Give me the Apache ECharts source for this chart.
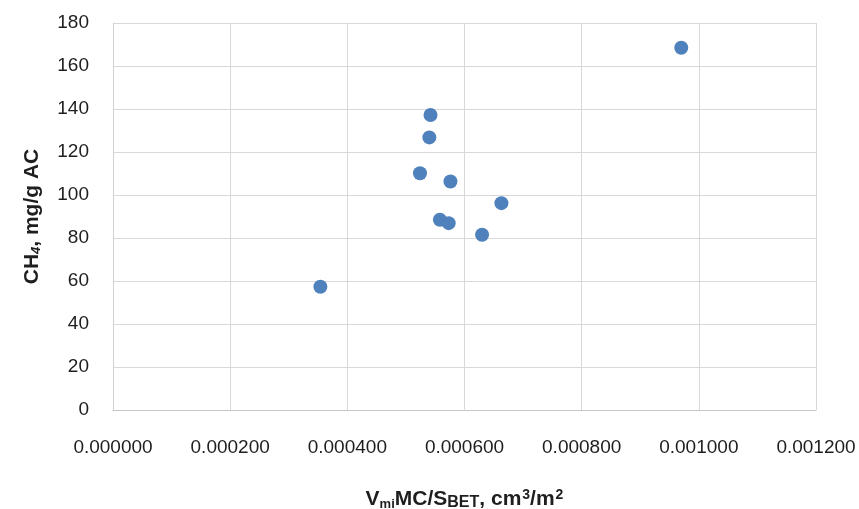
<!DOCTYPE html>
<html>
<head>
<meta charset="utf-8">
<script src="https://cdn.jsdelivr.net/npm/echarts@6/dist/echarts.min.js"></script>
<style>html,body{margin:0;padding:0;background:#fff}#c{width:859px;height:509px}</style>
</head>
<body>
<div id="c"></div>
<script>
const xValues = [0.000970, 0.000542, 0.000540, 0.000524, 0.000576, 0.000663, 0.000558, 0.000573, 0.000630, 0.000354];
const yValues = [168.5, 137.2, 126.8, 110.1, 106.3, 96.2, 88.5, 86.9, 81.5, 57.3];
const xTicks = { min: 0, max: 0.0012, interval: 0.0002 };
const yTicks = { min: 0, max: 180, interval: 20 };

const points = xValues.map((x, i) => [x, yValues[i]]);
const font = 'Liberation Sans, Arial, sans-serif';
const tc = '#1e1e1e';
const chart = echarts.init(document.getElementById('c'), null, { renderer: 'canvas' });
chart.setOption({
  animation: false,
  grid: { left: 113, right: 43, top: 23, bottom: 99, containLabel: false, outerBoundsMode: 'none' },
  xAxis: {
    type: 'value', min: xTicks.min, max: xTicks.max, interval: xTicks.interval,
    axisLine: { show: true, lineStyle: { color: '#c6c6c6', width: 1 } },
    axisTick: { show: false },
    splitLine: { show: true, lineStyle: { color: '#d9d9d9', width: 1 } },
    axisLabel: { color: tc, fontSize: 19, fontFamily: font, margin: 28,
      formatter: v => v.toFixed(6) },
    name: '{n|V}{sub|mi}{n|MC/S}{sc|BET}{n|, cm}{sup|3}{n|/m}{sup|2}',
    nameLocation: 'middle', nameGap: 78,
    nameTextStyle: {
      rich: {
        n: { fontSize: 21, fontWeight: 'bold', fontFamily: font, color: tc },
        sub: { fontSize: 13, fontWeight: 'bold', fontFamily: font, color: tc, verticalAlign: 'bottom', padding: [10, 0, 0, 0] },
        sc: { fontSize: 16, fontWeight: 'bold', fontFamily: font, color: tc, verticalAlign: 'bottom' },
        sup: { fontSize: 14, fontWeight: 'bold', fontFamily: font, color: tc, verticalAlign: 'top', padding: [0, 0, 4, 1] }
      }
    }
  },
  yAxis: {
    type: 'value', min: yTicks.min, max: yTicks.max, interval: yTicks.interval,
    axisLine: { show: true, lineStyle: { color: '#d0d0d0', width: 1 } },
    axisTick: { show: false },
    splitLine: { show: true, lineStyle: { color: '#d9d9d9', width: 1 } },
    axisLabel: { color: tc, fontSize: 19, fontFamily: font, margin: 24 },
    name: '{n|CH}{sub|4}{n|, mg/g AC}',
    nameLocation: 'middle', nameGap: 70,
    nameTextStyle: {
      rich: {
        n: { fontSize: 21, fontWeight: 'bold', fontFamily: font, color: tc },
        sub: { fontSize: 13, fontWeight: 'bold', fontStyle: 'italic', fontFamily: font, color: tc, verticalAlign: 'bottom', padding: [9, 0, 0, 0] }
      }
    }
  },
  series: [{
    type: 'scatter',
    data: points,
    symbol: 'circle',
    symbolSize: 14,
    itemStyle: { color: '#4f81bd', opacity: 1 }
  }]
});
</script>
</body>
</html>
